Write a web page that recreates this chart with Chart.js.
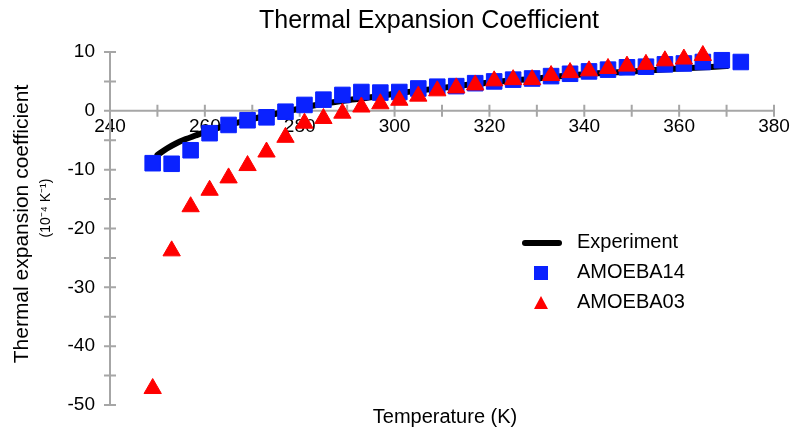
<!DOCTYPE html>
<html>
<head>
<meta charset="utf-8">
<script src="https://cdn.jsdelivr.net/npm/chart.js@4/dist/chart.umd.min.js"></script>
<style>
  body { margin: 0; background: #fff; }
  canvas { display: block; }
</style>
</head>
<body>
<canvas id="chart" width="800" height="437"></canvas>
<script>
"use strict";
const fontFamily = "'Liberation Sans', Helvetica, Arial, sans-serif";
const axisGray = "#a6a6a6";

// experiment curve
const tempsExp = [250, 252, 254, 256, 258, 260, 265, 270, 275, 280, 285, 290, 295, 300, 310, 320, 330, 340, 350, 360, 370];
const alphaExp = [-7.5, -6.4, -5.5, -4.8, -4.2, -3.6, -2.4, -1.4, -0.5, 0.4, 1.2, 1.8, 2.3, 2.9, 3.9, 4.8, 5.5, 6.2, 6.7, 7.2, 7.6];

// AMOEBA14 (blue squares)
const temps14 = [249, 253, 257, 261, 265, 269, 273, 277, 281, 285, 289, 293, 297, 301, 305, 309,
                 313, 317, 321, 325, 329, 333, 337, 341, 345, 349, 353, 357, 361, 365, 369, 373];
const alpha14 = [-8.9, -9.0, -6.7, -3.8, -2.4, -1.6, -1.1, -0.15, 1.0, 1.9, 2.7, 3.2, 3.1, 3.2, 3.8, 4.1,
                 4.2, 4.7, 5.0, 5.3, 5.5, 5.9, 6.3, 6.7, 7.0, 7.4, 7.5, 7.9, 8.05, 8.3, 8.6, 8.3];

// AMOEBA03 (red triangles)
const temps03 = [249, 253, 257, 261, 265, 269, 273, 277, 281, 285, 289, 293, 297, 301, 305,
                 309, 313, 317, 321, 325, 329, 333, 337, 341, 345, 349, 353, 357, 361, 365];
const alpha03 = [-47.2, -23.8, -16.3, -13.5, -11.4, -9.3, -7.0, -4.5, -2.1, -1.3, -0.4, 0.65, 1.2, 1.8, 2.5,
                 3.4, 3.9, 4.4, 5.1, 5.3, 5.3, 6.0, 6.5, 6.8, 7.2, 7.6, 7.9, 8.5, 8.8, 9.4];

const seriesNames = ["Experiment", "AMOEBA14", "AMOEBA03"];

function toPoints(xs, ys) {
    return xs.map((x, i) => ({ x: x, y: ys[i] }));
}

// axis lines and ticks that cross the axis, drawn under the markers
const crossAxes = {
    id: "crossAxes",
    beforeDatasetsDraw(chart) {
        const { ctx, chartArea, scales } = chart;
        const x = scales.x, y = scales.y;
        const y0 = y.getPixelForValue(0);
        ctx.save();
        ctx.strokeStyle = axisGray;
        ctx.lineWidth = 2;
        ctx.beginPath();
        ctx.moveTo(chartArea.left, y.getPixelForValue(y.max));
        ctx.lineTo(chartArea.left, y.getPixelForValue(y.min));
        ctx.moveTo(chartArea.left, y0);
        ctx.lineTo(x.getPixelForValue(x.max), y0);
        for (const t of x.ticks) {
            const px = x.getPixelForValue(t.value);
            ctx.moveTo(px, y0 - 6);
            ctx.lineTo(px, y0 + 6);
        }
        for (const t of y.ticks) {
            const py = y.getPixelForValue(t.value);
            ctx.moveTo(chartArea.left - 6, py);
            ctx.lineTo(chartArea.left + 6, py);
        }
        ctx.stroke();
        ctx.restore();
    }
};

// titles and the legend box inside the plot
const textBits = {
    id: "textBits",
    afterDraw(chart) {
        const ctx = chart.ctx;
        ctx.save();
        ctx.fillStyle = "#000";
        ctx.textAlign = "center";
        ctx.textBaseline = "middle";

        ctx.font = "25px " + fontFamily;
        ctx.fillText("Thermal Expansion Coefficient", 429, 21);

        ctx.font = "20px " + fontFamily;
        ctx.fillText("Temperature (K)", 445, 417);

        ctx.save();
        ctx.translate(22, 224);
        ctx.rotate(-Math.PI / 2);
        ctx.font = "21px " + fontFamily;
        ctx.fillText("Thermal expansion coefficient", 0, 0);
        ctx.restore();
        ctx.save();
        ctx.translate(46, 208);
        ctx.rotate(-Math.PI / 2);
        ctx.font = "14px " + fontFamily;
        ctx.fillText("(10\u207B\u2074 K\u207B\u00B9)", 0, 0);
        ctx.restore();

        // legend
        const ds = chart.data.datasets;
        const rows = [243, 273, 303];
        ctx.textAlign = "left";
        ctx.font = "20px " + fontFamily;
        ds.forEach((d, i) => {
            const cy = rows[i];
            if (i === 0) {
                ctx.strokeStyle = d.borderColor;
                ctx.lineWidth = 6;
                ctx.lineCap = "round";
                ctx.beginPath();
                ctx.moveTo(525, cy);
                ctx.lineTo(559, cy);
                ctx.stroke();
            } else if (d.pointStyle === "rect") {
                ctx.fillStyle = d.backgroundColor;
                ctx.fillRect(534, cy - 7, 14, 14);
            } else {
                ctx.fillStyle = d.backgroundColor;
                ctx.beginPath();
                ctx.moveTo(541, cy - 7);
                ctx.lineTo(548, cy + 6);
                ctx.lineTo(534, cy + 6);
                ctx.closePath();
                ctx.fill();
            }
            ctx.fillStyle = "#000";
            ctx.fillText(d.label, 577, cy - 1);
        });
        ctx.restore();
    }
};

Chart.defaults.font.family = fontFamily;
Chart.defaults.color = "#000";

const ctx = document.getElementById("chart").getContext("2d");
const chart = new Chart(ctx, {
    type: "scatter",
    data: {
        datasets: [{
                label: seriesNames[0],
                type: "line",
                data: toPoints(tempsExp, alphaExp),
                borderColor: "#000000",
                borderWidth: 6,
                borderCapStyle: "round",
                cubicInterpolationMode: "monotone",
                pointRadius: 0,
                fill: false,
                clip: false,
                order: 3
            }, {
                label: seriesNames[1],
                data: toPoints(temps14, alpha14),
                pointStyle: "rect",
                pointRadius: 11,
                borderWidth: 1,
                backgroundColor: "#0a22ff",
                borderColor: "#0a22ff",
                clip: false,
                order: 2
            }, {
                label: seriesNames[2],
                data: toPoints(temps03, alpha03),
                pointStyle: "triangle",
                pointRadius: 10,
                borderWidth: 1,
                backgroundColor: "#ff0000",
                borderColor: "#ff0000",
                clip: false,
                order: 1
            }]
    },
    options: {
        responsive: false,
        animation: false,
        layout: { padding: { left: 0, right: 26, top: 52, bottom: 32 } },
        plugins: {
            legend: { display: false },
            tooltip: { enabled: false },
            title: { display: false }
        },
        scales: {
            x: {
                type: "linear",
                position: { y: 0 },
                min: 240,
                max: 380,
                z: 1,
                grid: { display: false, drawTicks: false },
                border: { display: false },
                ticks: {
                    stepSize: 10,
                    padding: 5,
                    font: { size: 19 },
                    maxRotation: 0,
                    callback: (v) => (v % 20 === 0 ? v : "")
                },
                afterFit: (s) => { s.height = 32; s.paddingLeft = 0; s.paddingRight = 0; }
            },
            y: {
                min: -50,
                max: 10,
                grid: { display: false, drawTicks: false },
                border: { display: false },
                ticks: {
                    stepSize: 5,
                    padding: 15,
                    font: { size: 19 },
                    callback: (v) => (v % 10 === 0 ? v : "")
                },
                afterFit: (s) => { s.width = 110; s.paddingTop = 0; s.paddingBottom = 0; }
            }
        }
    },
    plugins: [crossAxes, textBits]
});
</script>
</body>
</html>
